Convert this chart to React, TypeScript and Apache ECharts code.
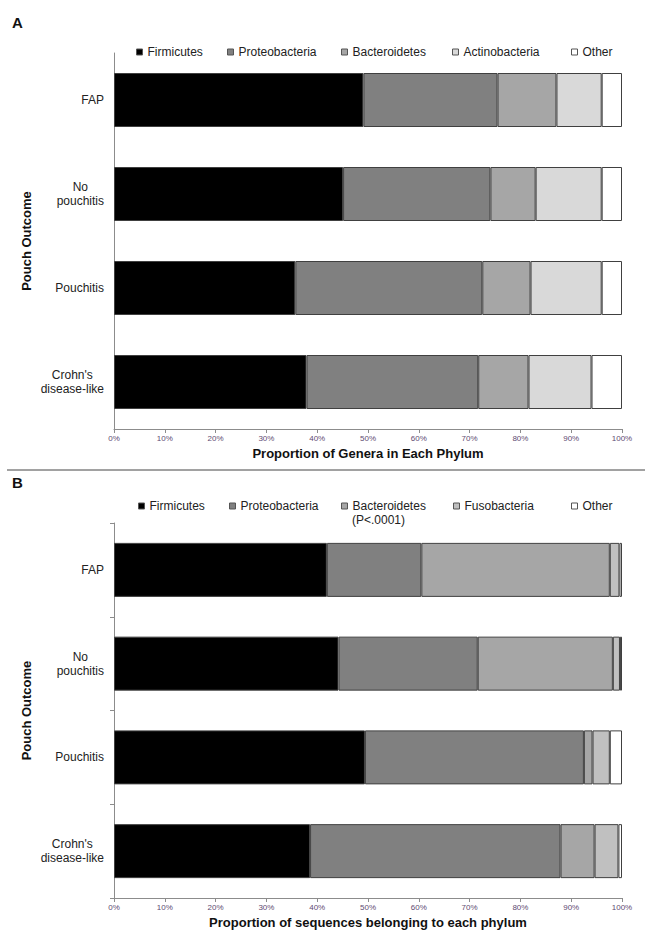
import React, { useEffect, useRef } from "react";
import * as echarts from "echarts";

const categories = ["FAP", "No\npouchitis", "Pouchitis", "Crohn's\ndisease-like"];
const xTicks = [0, 10, 20, 30, 40, 50, 60, 70, 80, 90, 100];

// Panel A: proportion of genera in each phylum (%)
const firmicutesA = [49.1, 45.1, 35.7, 37.9];
const proteobacteriaA = [26.4, 29.0, 36.8, 33.8];
const bacteroidetesA = [11.6, 8.9, 9.5, 9.9];
const actinobacteriaA = [8.9, 13.0, 14.0, 12.4];
const otherA = [4.0, 4.0, 4.0, 6.0];

// Panel B: proportion of sequences belonging to each phylum (%)
const firmicutesB = [41.9, 44.2, 49.4, 38.6];
const proteobacteriaB = [18.6, 27.4, 43.1, 49.3];
const bacteroidetesB = [37.1, 26.6, 1.7, 6.7];
const fusobacteriaB = [1.9, 1.4, 3.4, 4.7];
const otherB = [0.5, 0.4, 2.4, 0.7];

const FONT = "Liberation Sans, Arial, sans-serif";
const BORDER = "#404040";

const colors: Record<string, string> = {
  Firmicutes: "#000000",
  Proteobacteria: "#808080",
  Bacteroidetes: "#a6a6a6",
  Actinobacteria: "#d9d9d9",
  Fusobacteria: "#c0c0c0",
  Other: "#ffffff",
};

const seriesA: [string, number[]][] = [
  ["Firmicutes", firmicutesA],
  ["Proteobacteria", proteobacteriaA],
  ["Bacteroidetes", bacteroidetesA],
  ["Actinobacteria", actinobacteriaA],
  ["Other", otherA],
];
const seriesB: [string, number[]][] = [
  ["Firmicutes", firmicutesB],
  ["Proteobacteria", proteobacteriaB],
  ["Bacteroidetes", bacteroidetesB],
  ["Fusobacteria", fusobacteriaB],
  ["Other", otherB],
];

const legendA: [string, number][] = [
  ["Firmicutes", 147],
  ["Proteobacteria", 238],
  ["Bacteroidetes", 352],
  ["Actinobacteria", 463],
  ["Other", 582],
];
const legendB: [string, number][] = [
  ["Firmicutes", 149],
  ["Proteobacteria", 240],
  ["Bacteroidetes", 352],
  ["Fusobacteria", 464],
  ["Other", 582],
];

function makeXAxis(gridIndex: number, name: string) {
  return {
    type: "value",
    gridIndex,
    min: xTicks[0],
    max: xTicks[xTicks.length - 1],
    interval: 10,
    name,
    nameLocation: "middle",
    nameGap: 18,
    nameTextStyle: { fontFamily: FONT, fontSize: 13, fontWeight: "bold", color: "#111" },
    axisLine: { show: true, lineStyle: { color: "#8c8c8c", width: 1 } },
    axisTick: { show: true, length: 4, lineStyle: { color: "#8c8c8c" } },
    axisLabel: { formatter: "{value}%", fontFamily: FONT, fontSize: 8, color: "#5e4a72", margin: 5 },
    splitLine: { show: false },
  };
}

function makeYAxis(gridIndex: number, ticks: boolean) {
  return {
    type: "category",
    gridIndex,
    inverse: true,
    data: categories,
    name: "Pouch Outcome",
    nameLocation: "middle",
    nameRotate: 90,
    nameGap: 81,
    nameMoveOverlap: false,
    nameTextStyle: { fontFamily: FONT, fontSize: 13, fontWeight: "bold", color: "#111" },
    axisLine: { show: true, lineStyle: { color: "#8c8c8c", width: 1 } },
    axisTick: { show: ticks, length: 4, lineStyle: { color: "#8c8c8c" } },
    axisLabel: {
      fontFamily: FONT,
      fontSize: 12,
      color: "#222",
      margin: 10,
      formatter: (v: string) =>
        v
          .split("\n")
          .map((l) => `{c|${l}}`)
          .join("\n"),
      rich: { c: { align: "center", fontFamily: FONT, fontSize: 12, color: "#222", lineHeight: 14 } },
    },
    splitLine: { show: false },
  };
}

function makeSeries(list: [string, number[]][], idx: number) {
  return list.map(([name, data]) => ({
    type: "bar",
    name,
    stack: "s" + idx,
    xAxisIndex: idx,
    yAxisIndex: idx,
    data,
    barWidth: 54,
    itemStyle: { color: colors[name], borderColor: BORDER, borderWidth: 1 },
  }));
}

function makeLegends(list: [string, number][], top: number) {
  return list.map(([name, textX]) => ({
    data: [{ name, icon: "rect" }],
    left: textX - 11,
    top,
    padding: 0,
    itemWidth: 6,
    itemHeight: 6,
    selectedMode: false,
    itemStyle: { borderColor: "#555", borderWidth: 1 },
    textStyle: { fontFamily: FONT, fontSize: 12, color: "#222" },
  }));
}

export default function App() {
  const ref = useRef<HTMLDivElement>(null);
  useEffect(() => {
    if (!ref.current) return;
    const chart = echarts.init(ref.current, undefined, { renderer: "svg" });
    chart.setOption({
      animation: false,
      backgroundColor: "#ffffff",
      grid: [
        { left: 114, width: 508, top: 53, height: 376 },
        { left: 114, width: 508, top: 523, height: 375 },
      ],
      xAxis: [
        makeXAxis(0, "Proportion of Genera in Each Phylum"),
        makeXAxis(1, "Proportion of sequences belonging to each phylum"),
      ],
      yAxis: [makeYAxis(0, false), makeYAxis(1, true)],
      legend: [...makeLegends(legendA, 46), ...makeLegends(legendB, 500)],
      series: [...makeSeries(seriesA, 0), ...makeSeries(seriesB, 1)],
      graphic: [
        {
          type: "text",
          left: 12,
          top: 15,
          style: { text: "A", font: `bold 15px ${FONT}`, fill: "#111" },
        },
        {
          type: "text",
          left: 12,
          top: 475,
          style: { text: "B", font: `bold 15px ${FONT}`, fill: "#111" },
        },
        {
          type: "line",
          shape: { x1: 7, y1: 470, x2: 645, y2: 470 },
          style: { stroke: "#444", lineWidth: 1 },
        },
        {
          type: "text",
          left: 352,
          top: 514,
          style: { text: "(P<.0001)", font: `12px ${FONT}`, fill: "#222" },
        },
      ],
    });
    return () => chart.dispose();
  }, []);
  return (
    <div
      ref={ref}
      style={{ position: "absolute", left: 0, top: 0, width: 653, height: 938 }}
    />
  );
}
